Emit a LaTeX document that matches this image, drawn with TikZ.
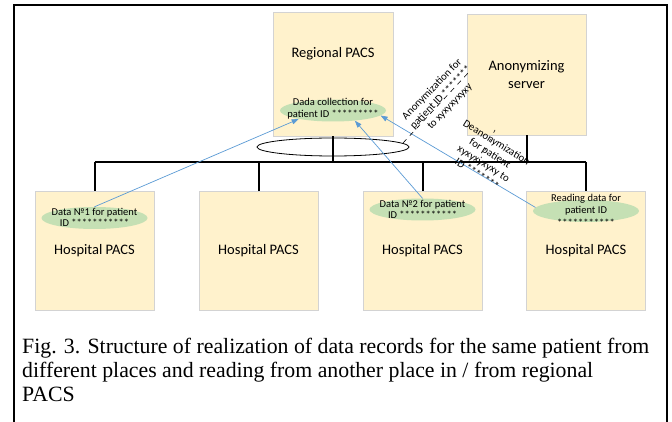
\documentclass[tikz,border=0pt]{standalone}
\usepackage{fontspec}
\setmainfont{Carlito}
\newfontfamily\capfont{Liberation Serif}
\usetikzlibrary{arrows.meta,shapes.geometric}
\definecolor{boxfill}{HTML}{FFF2CC}
\definecolor{boxline}{HTML}{D3D3D3}
\definecolor{ovalfill}{HTML}{C5E0B4}
\definecolor{linkblue}{HTML}{5B9BD5}
\begin{document}
\begin{tikzpicture}[x=1pt,y=-1pt,
  pacsbox/.style={draw=boxline, fill=boxfill, line width=0.8pt, inner sep=0pt,
    minimum width=119pt, minimum height=119pt, align=center,
    font=\fontsize{14.5}{17.5}\selectfont},
  oval/.style={ellipse, fill=ovalfill, draw=none, inner sep=0pt,
    minimum width=106pt, minimum height=22pt},
  ovaltext/.style={inner sep=0pt, align=center, font=\fontsize{10.5}{11.5}\selectfont},
  bus/.style={line width=2pt, black},
  link/.style={linkblue, line width=0.7pt},
  tip/.style={-{Triangle[length=7pt,width=5pt]}},
  rotlabel/.style={inner sep=0pt, align=center, font=\fontsize{10.8}{12.3}\selectfont},
  leader/.style={black, line width=0.6pt, dash pattern=on 5pt off 5pt},
  captext/.style={inner sep=0pt, anchor=base west, font=\capfont\fontsize{21.8}{24}\selectfont}]

\useasboundingbox (0,0) rectangle (672,422);
\fill[white] (0,0) rectangle (672,422);

% open frame (no bottom edge)
\coordinate (fbl) at (13.5,423);
\coordinate (ftl) at (13.5,5);
\coordinate (ftr) at (667,5);
\coordinate (fbr) at (667,423);
\draw[line width=2pt] (fbl) -- (ftl) -- (ftr) -- (fbr);

% servers
\node[pacsbox, minimum width=120pt, minimum height=124pt] (reg) at (333,74) {Regional PACS\\[26pt]};
\node[pacsbox, minimum height=121pt] (srv) at (526.5,74.5) {Anonymizing\\server};

% hospital PACS
\node[pacsbox] (h1) at (94.5,250.5) {Hospital PACS};
\node[pacsbox] (h2) at (258.5,250.5) {Hospital PACS};
\node[pacsbox] (h3) at (422.5,250.5) {Hospital PACS};
\node[pacsbox] (h4) at (586,250.5) {Hospital PACS};

% network bus
\coordinate (busl) at (h1.north |- 0,162);
\coordinate (busr) at (h4.north |- 0,162);
\draw[bus] (busl) -- (busr);
\draw[bus] (reg.south) -- (reg.south |- busl);
\draw[bus] (srv.south) -- (srv.south |- busl);
\foreach \h in {h1,h2,h3,h4} \draw[bus] (\h.north |- busl) -- (\h.north);

% ring around the regional uplink
\node[ellipse, draw, line width=0.8pt, minimum width=152pt, minimum height=18pt, inner sep=0pt] (ring) at (333,147) {};

% data ovals
\node[oval] (rege) at (333,110.5) {};
\node[ovaltext] (regt) at (333,108.5) {Dada collection for\\patient ID *********};
\node[oval] (h1e) at (94.5,218) {};
\node[ovaltext] (h1t) at (94.5,217.5) {Data №1 for patient\\ID ***********};
\node[oval] (h3e) at (422.5,209.5) {};
\node[ovaltext] (h3t) at (422.5,209.5) {Data №2 for patient\\ID ***********};
\node[oval] (h4e) at (586,211) {};
\node[ovaltext, font=\fontsize{10.5}{12.5}\selectfont] (h4t) at (586,210) {Reading data for\\patient ID\\***********};

% data flows
\draw[link, tip] (h1e.north) -- (rege.194);
\draw[link, tip] (h3e.north) -- (rege.335);
\draw[link, tip, {Triangle[length=7pt,width=5pt]}-] (rege.354) -- (h4e.176);

% anonymization notes
\coordinate (la1) at (403,143);
\coordinate (la2) at (469,72);
\draw[leader] (la1) -- (la2);
\node[rotlabel, rotate=46] (anon) at (441,98) {Anonymization for\\patient ID *******\\to xyxyxyxyxy};
\coordinate (ld1) at (495,130);
\coordinate (ld2) at (481,158);
\draw[leader, dash pattern=on 3pt off 7pt] (ld1) -- (ld2);
\node[rotlabel, rotate=-32] (deanon) at (487,158) {Deanonymization\\for patient\\xyxyxyxyxy to\\ID *******};

% caption
\node[captext] (cap1) at (22,353) {Fig. 3. Structure of realization of data records for the same patient from};
\node[captext] (cap2) at (22,377) {different places and reading from another place in / from regional};
\node[captext] (cap3) at (22,401) {PACS};
\end{tikzpicture}
\end{document}
